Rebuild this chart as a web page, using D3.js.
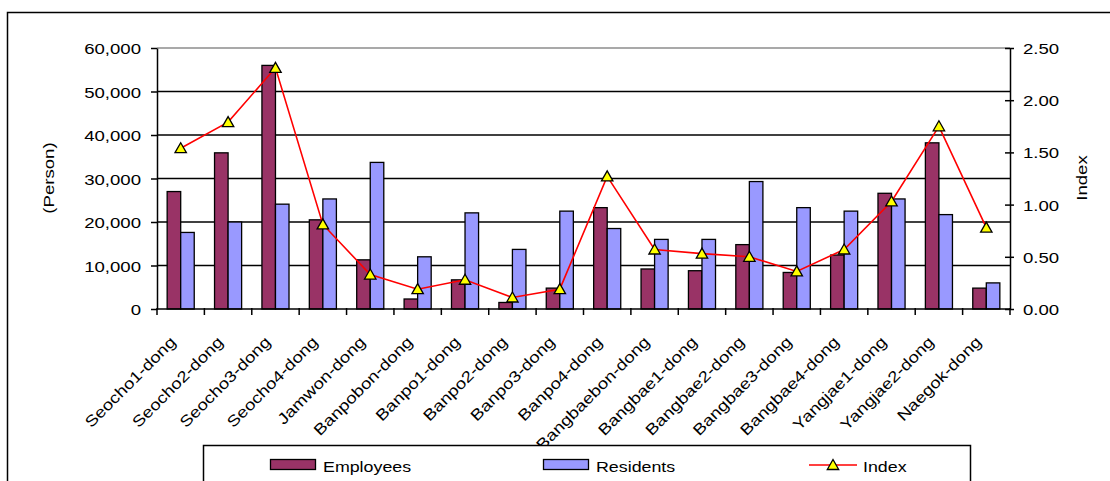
<!DOCTYPE html>
<html>
<head>
<meta charset="utf-8">
<script src="https://cdn.jsdelivr.net/npm/d3@7"></script>
<style>
  html, body { margin: 0; padding: 0; background: #fff; }
  svg { display: block; }
  text { font-family: "Liberation Sans", Arial, sans-serif; fill: #000; }
</style>
</head>
<body>
<svg id="chart" width="1110" height="481"></svg>
<script>
// Employees and residents per dong, with the employee/resident index
const categories = [
  "Seocho1-dong", "Seocho2-dong", "Seocho3-dong", "Seocho4-dong", "Jamwon-dong",
  "Banpobon-dong", "Banpo1-dong", "Banpo2-dong", "Banpo3-dong", "Banpo4-dong",
  "Bangbaebon-dong", "Bangbae1-dong", "Bangbae2-dong", "Bangbae3-dong", "Bangbae4-dong",
  "Yangjae1-dong", "Yangjae2-dong", "Naegok-dong"
];
const employees = [27000, 35900, 56000, 20500, 11300, 2300, 6700, 1500, 4800, 23300,
                   9200, 8800, 14800, 8400, 12400, 26600, 38200, 4800];
const residents = [17600, 20000, 24100, 25300, 33700, 12000, 22100, 13700, 22500, 18500,
                   16000, 16000, 29300, 23300, 22500, 25300, 21700, 6000];
const indexValues = [1.54, 1.79, 2.31, 0.81, 0.33, 0.19, 0.28, 0.11, 0.19, 1.27,
                     0.57, 0.53, 0.50, 0.36, 0.57, 1.03, 1.75, 0.78];
const personTicks = [0, 10000, 20000, 30000, 40000, 50000, 60000];
const indexTicks = [0, 0.5, 1.0, 1.5, 2.0, 2.5];
const seriesNames = ["Employees", "Residents", "Index"];

const colors = { Employees: "#993366", Residents: "#9999ff", line: "#ff0000", marker: "#ffff00" };

const svg = d3.select("#chart");
const plot = { left: 157, right: 1010, top: 48, bottom: 309 };

const x = d3.scaleBand().domain(categories).range([plot.left, plot.right]).paddingInner(0).paddingOuter(0);
const xInner = d3.scaleBand().domain(["Employees", "Residents"]).range([0, x.bandwidth()]).paddingOuter(0.75).paddingInner(0);
const yL = d3.scaleLinear().domain([0, 60000]).range([plot.bottom, plot.top]);
const yR = d3.scaleLinear().domain([0, 2.5]).range([plot.bottom, plot.top]);

// Outer chart frame
svg.append("rect").attr("x", 7.5).attr("y", 12.5).attr("width", 1120).attr("height", 500)
  .attr("fill", "#fff").attr("stroke", "#000").attr("stroke-width", 1.5);

// Horizontal gridlines
svg.append("g").selectAll("line").data(personTicks.filter(d => d > 0)).join("line")
  .attr("x1", plot.left).attr("x2", plot.right)
  .attr("y1", d => yL(d)).attr("y2", d => yL(d))
  .attr("stroke", d => d === 60000 ? "#8c8c8c" : "#000")
  .attr("stroke-width", 1.5);

// Bars
const groups = svg.append("g").selectAll("g").data(categories).join("g")
  .attr("transform", d => `translate(${x(d)},0)`);
groups.append("rect")
  .attr("x", xInner("Employees")).attr("width", xInner.bandwidth())
  .attr("y", (d, i) => yL(employees[i])).attr("height", (d, i) => yL(0) - yL(employees[i]))
  .attr("fill", colors.Employees).attr("stroke", "#000").attr("stroke-width", 1.3);
groups.append("rect")
  .attr("x", xInner("Residents")).attr("width", xInner.bandwidth())
  .attr("y", (d, i) => yL(residents[i])).attr("height", (d, i) => yL(0) - yL(residents[i]))
  .attr("fill", colors.Residents).attr("stroke", "#000").attr("stroke-width", 1.3);

// Left axis
const leftAxis = svg.append("g").attr("transform", `translate(${plot.left},0)`)
  .call(d3.axisLeft(yL).tickValues(personTicks).tickSize(6).tickSizeOuter(0).tickFormat(d3.format(",")));
leftAxis.select(".domain").attr("stroke", "#000").attr("stroke-width", 1.5);
leftAxis.selectAll(".tick line").attr("stroke", "#000").attr("stroke-width", 1.5);
leftAxis.selectAll(".tick text").attr("x", 0).attr("dy", "0.36em")
  .attr("transform", "translate(-16,0) scale(1.2,1)")
  .style("font-size", "15.5px").attr("fill", "#000");

// Right axis
const rightAxis = svg.append("g").attr("transform", `translate(${plot.right},0)`)
  .call(d3.axisRight(yR).tickValues(indexTicks).tickSizeInner(-5).tickSizeOuter(0).tickFormat(d3.format(".2f")));
rightAxis.select(".domain").attr("stroke", "#000").attr("stroke-width", 1.5);
rightAxis.selectAll(".tick line").attr("stroke", "#000").attr("stroke-width", 1.5).attr("x2", 4).attr("x1", -5);
rightAxis.selectAll(".tick text").attr("x", 0).attr("dy", "0.36em")
  .attr("transform", "translate(13,0) scale(1.2,1)")
  .style("font-size", "15.5px").attr("fill", "#000");

// Category axis
const bottom = svg.append("g");
bottom.append("line").attr("x1", plot.left).attr("x2", plot.right)
  .attr("y1", plot.bottom).attr("y2", plot.bottom).attr("stroke", "#000").attr("stroke-width", 1.5);
const boundaries = categories.map(c => x(c)).concat([plot.right]);
bottom.selectAll("line.tk").data(boundaries).join("line").attr("class", "tk")
  .attr("x1", d => d).attr("x2", d => d)
  .attr("y1", plot.bottom - 1).attr("y2", plot.bottom + 6)
  .attr("stroke", "#000").attr("stroke-width", 1.5);
bottom.selectAll("g.lbl").data(categories).join("g").attr("class", "lbl")
  .attr("transform", d => `translate(${x(d) + x.bandwidth() / 2 - 4},343) rotate(-45) scale(1.2,1)`)
  .append("text").attr("text-anchor", "end").style("font-size", "15.5px").text(d => d);

// Index line and markers
const line = d3.line().x((d, i) => x(categories[i]) + x.bandwidth() / 2).y(d => yR(d));
svg.append("path").datum(indexValues).attr("d", line)
  .attr("fill", "none").attr("stroke", colors.line).attr("stroke-width", 1.6);
const tri = "M0,-5.5 L5.7,4.5 L-5.7,4.5 Z";
svg.append("g").selectAll("path").data(indexValues).join("path")
  .attr("d", tri)
  .attr("transform", (d, i) => `translate(${x(categories[i]) + x.bandwidth() / 2},${yR(d)})`)
  .attr("fill", colors.marker).attr("stroke", "#000").attr("stroke-width", 1.3);

// Axis titles
svg.append("g").attr("transform", "translate(54,178) rotate(-90) scale(1.2,1)")
  .append("text").attr("text-anchor", "middle").style("font-size", "15.5px").text("(Person)");
svg.append("g").attr("transform", "translate(1087,178) rotate(-90) scale(1.2,1)")
  .append("text").attr("text-anchor", "middle").style("font-size", "15.5px").text("Index");

// Legend
const legend = svg.append("g");
legend.append("rect").attr("x", 203.5).attr("y", 445.5).attr("width", 767).attr("height", 60)
  .attr("fill", "#fff").attr("stroke", "#000").attr("stroke-width", 1.5);
const legendX = { Employees: 270, Residents: 543, Index: 809 };
seriesNames.forEach(name => {
  const g = legend.append("g").attr("transform", `translate(${legendX[name]},0)`);
  if (name === "Index") {
    g.append("line").attr("x1", 0).attr("x2", 48).attr("y1", 465).attr("y2", 465)
      .attr("stroke", colors.line).attr("stroke-width", 1.6);
    g.append("path").attr("d", tri).attr("transform", "translate(24,465)")
      .attr("fill", colors.marker).attr("stroke", "#000").attr("stroke-width", 1.3);
    g.append("g").attr("transform", "translate(54,471.5) scale(1.15,1)")
      .append("text").style("font-size", "15.5px").text(name);
  } else {
    g.append("rect").attr("x", 0.5).attr("y", 459.5).attr("width", 45).attr("height", 10)
      .attr("fill", colors[name]).attr("stroke", "#000").attr("stroke-width", 1.3);
    g.append("g").attr("transform", "translate(53,471.5) scale(1.15,1)")
      .append("text").style("font-size", "15.5px").text(name);
  }
});
</script>
</body>
</html>
